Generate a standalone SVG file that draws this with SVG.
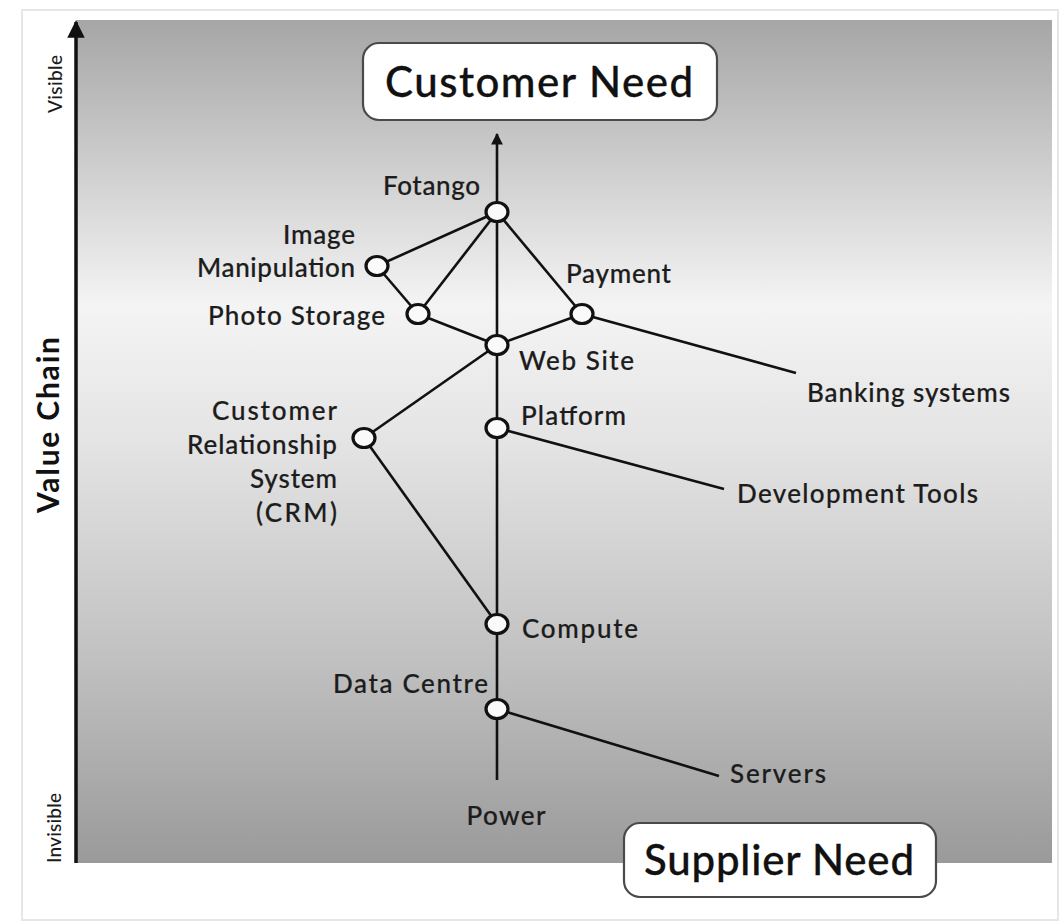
<svg xmlns="http://www.w3.org/2000/svg" width="1064" height="923" viewBox="0 0 1064 923">
  <defs>
    <linearGradient id="bg" x1="0" y1="0" x2="0" y2="1">
      <stop offset="0" stop-color="#a6a6a6"/>
      <stop offset="0.34" stop-color="#f4f4f4"/>
      <stop offset="0.5" stop-color="#e4e4e4"/>
      <stop offset="0.75" stop-color="#c2c2c2"/>
      <stop offset="1" stop-color="#9a9a9a"/>
    </linearGradient>
    <marker id="arrowBig" viewBox="0 0 10 10" refX="9" refY="5" markerWidth="5" markerHeight="5" orient="auto" markerUnits="strokeWidth">
      <path d="M0,0 L10,5 L0,10 z" fill="#111"/>
    </marker>
    <marker id="arrowSmall" viewBox="0 0 10 10" refX="9" refY="5" markerWidth="4.5" markerHeight="4.5" orient="auto" markerUnits="strokeWidth">
      <path d="M0,0 L10,5 L0,10 z" fill="#111"/>
    </marker>
    <style>
      .lbl { font-family: Lato, "Open Sans", sans-serif; font-size: 26px; font-weight: 500; fill: #1c1c1c; stroke: #1c1c1c; stroke-width: 0.2; }
      .big { font-family: Lato, "Open Sans", sans-serif; font-size: 42px; font-weight: 500; fill: #111; stroke: #111; stroke-width: 0.3; }
      .axis { font-family: Lato, "Open Sans", sans-serif; font-size: 19px; font-weight: 500; fill: #1c1c1c; }
      .axisB { font-family: Lato, "Open Sans", sans-serif; font-size: 30px; font-weight: bold; fill: #111; }
      .edge { stroke: #111; stroke-width: 2.6; fill: none; }
      .node { fill: #fafafa; stroke: #111; stroke-width: 3.2; }
      .box { fill: #fff; stroke: #4a4a4a; stroke-width: 2.2; }
    </style>
  </defs>

  <rect x="0" y="0" width="1064" height="923" fill="#ffffff"/>
  <rect x="22" y="10" width="1036" height="910" fill="#ffffff" stroke="#e6e6e6" stroke-width="2"/>
  <rect x="76" y="20" width="976" height="843" fill="url(#bg)"/>

  <g id="axis">
    <line x1="76" y1="863" x2="76" y2="22" stroke="#111" stroke-width="3.5" marker-end="url(#arrowBig)"/>
    <text class="axis" transform="translate(62,84) rotate(-90)" text-anchor="middle" textLength="58" lengthAdjust="spacing">Visible</text>
    <text class="axis" transform="translate(61,828) rotate(-90)" text-anchor="middle" textLength="70" lengthAdjust="spacing">Invisible</text>
    <text class="axisB" transform="translate(59,425) rotate(-90)" text-anchor="middle" textLength="176" lengthAdjust="spacing">Value Chain</text>
  </g>

  <g id="connectors">
    <line class="edge" x1="497" y1="780" x2="497" y2="134" marker-end="url(#arrowSmall)"/>
    <line class="edge" x1="497" y1="212" x2="377" y2="266"/>
    <line class="edge" x1="497" y1="212" x2="418" y2="314"/>
    <line class="edge" x1="497" y1="212" x2="582" y2="314"/>
    <line class="edge" x1="377" y1="266" x2="418" y2="314"/>
    <line class="edge" x1="418" y1="314" x2="497" y2="345"/>
    <line class="edge" x1="497" y1="345" x2="582" y2="314"/>
    <line class="edge" x1="497" y1="345" x2="364" y2="438"/>
    <line class="edge" x1="364" y1="438" x2="497" y2="624"/>
    <line class="edge" x1="582" y1="314" x2="796" y2="373"/>
    <line class="edge" x1="497" y1="428" x2="724" y2="489"/>
    <line class="edge" x1="497" y1="709" x2="719" y2="776"/>
  </g>

  <g id="customer-need">
    <rect class="box" x="363" y="43" width="354" height="77" rx="16"/>
    <text class="big" x="539" y="97" text-anchor="middle" textLength="308" lengthAdjust="spacing">Customer Need</text>
  </g>
  <g id="supplier-need">
    <rect class="box" x="624" y="823" width="312" height="74" rx="16"/>
    <text class="big" x="779" y="875" text-anchor="middle" textLength="270" lengthAdjust="spacing">Supplier Need</text>
  </g>

  <g id="fotango">
    <ellipse class="node" cx="497" cy="212" rx="11" ry="9.5"/>
    <text class="lbl" x="480" y="195" text-anchor="end" textLength="97" lengthAdjust="spacing">Fotango</text>
  </g>
  <g id="image-manipulation">
    <ellipse class="node" cx="377" cy="266" rx="11" ry="9.5"/>
    <text class="lbl" x="355" y="244" text-anchor="end" textLength="72" lengthAdjust="spacing">Image</text>
    <text class="lbl" x="355" y="277" text-anchor="end" textLength="158" lengthAdjust="spacing">Manipulation</text>
  </g>
  <g id="photo-storage">
    <ellipse class="node" cx="418" cy="314" rx="11" ry="9.5"/>
    <text class="lbl" x="385" y="325" text-anchor="end" textLength="177" lengthAdjust="spacing">Photo Storage</text>
  </g>
  <g id="payment">
    <ellipse class="node" cx="582" cy="314" rx="11" ry="9.5"/>
    <text class="lbl" x="566" y="283" textLength="105" lengthAdjust="spacing">Payment</text>
  </g>
  <g id="web-site">
    <ellipse class="node" cx="497" cy="345" rx="11" ry="9.5"/>
    <text class="lbl" x="519" y="370" textLength="115" lengthAdjust="spacing">Web Site</text>
  </g>
  <g id="banking-systems">
    <text class="lbl" x="807" y="402" textLength="203" lengthAdjust="spacing">Banking systems</text>
  </g>
  <g id="platform">
    <ellipse class="node" cx="497" cy="428" rx="11" ry="9.5"/>
    <text class="lbl" x="521" y="425" textLength="105" lengthAdjust="spacing">Platform</text>
  </g>
  <g id="crm">
    <ellipse class="node" cx="364" cy="438" rx="11" ry="9.5"/>
    <text class="lbl" x="337" y="420" text-anchor="end" textLength="125" lengthAdjust="spacing">Customer</text>
    <text class="lbl" x="337" y="454" text-anchor="end" textLength="150" lengthAdjust="spacing">Relationship</text>
    <text class="lbl" x="337" y="488" text-anchor="end" textLength="87" lengthAdjust="spacing">System</text>
    <text class="lbl" x="337" y="522" text-anchor="end" textLength="81" lengthAdjust="spacing">(CRM)</text>
  </g>
  <g id="development-tools">
    <text class="lbl" x="737" y="503" textLength="241" lengthAdjust="spacing">Development Tools</text>
  </g>
  <g id="compute">
    <ellipse class="node" cx="497" cy="624" rx="11" ry="9.5"/>
    <text class="lbl" x="522" y="638" textLength="116" lengthAdjust="spacing">Compute</text>
  </g>
  <g id="data-centre">
    <ellipse class="node" cx="497" cy="709" rx="11" ry="9.5"/>
    <text class="lbl" x="488" y="693" text-anchor="end" textLength="155" lengthAdjust="spacing">Data Centre</text>
  </g>
  <g id="servers">
    <text class="lbl" x="730" y="783" textLength="96" lengthAdjust="spacing">Servers</text>
  </g>
  <g id="power">
    <text class="lbl" x="506" y="825" text-anchor="middle" textLength="79" lengthAdjust="spacing">Power</text>
  </g>
</svg>
